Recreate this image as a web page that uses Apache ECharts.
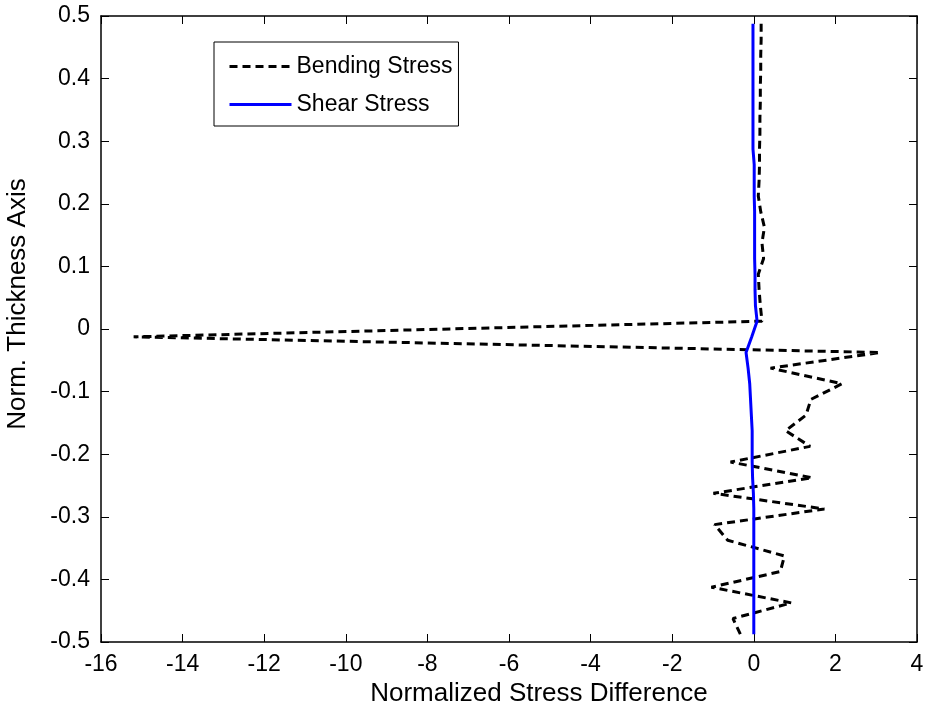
<!DOCTYPE html>
<html>
<head>
  <meta charset="utf-8">
  <title>Stress Difference</title>
  <script src="https://cdn.jsdelivr.net/npm/echarts@6/dist/echarts.min.js"></script>
  <style>
    html, body { margin: 0; padding: 0; background: #fff; }
    #main { width: 933px; height: 708px; }
  </style>
</head>
<body>
  <div id="main"></div>
  <script>
    // thickness positions (same for both curves)
    const thickness = [
      0.4875, 0.4625, 0.4375, 0.4125, 0.3875, 0.3625, 0.3375, 0.3125, 0.2875, 0.2625,
      0.2375, 0.2125, 0.1875, 0.1625, 0.1375, 0.1125, 0.0875, 0.0625, 0.0375, 0.0125,
      -0.0125, -0.0375, -0.0625, -0.0875, -0.1125, -0.1375, -0.1625, -0.1875, -0.2125, -0.2375,
      -0.2625, -0.2875, -0.3125, -0.3375, -0.3625, -0.3875, -0.4125, -0.4375, -0.4625, -0.4875
    ]
    const bendingStress = [
      0.18, 0.18, 0.17, 0.17, 0.16, 0.16, 0.15, 0.15, 0.14, 0.14,
      0.13, 0.11, 0.17, 0.26, 0.20, 0.24, 0.11, 0.13, 0.16, 0.20,
      -15.2, 3.1, 0.41, 2.16, 1.40, 1.28, 0.78, 1.38, -0.57, 1.43,
      -0.99, 1.73, -0.96, -0.64, 0.75, 0.65, -1.04, 0.92, -0.51, -0.33
    ]
    const shearStress = [
      -0.02, -0.02, -0.02, -0.02, -0.02, -0.02, -0.02, -0.02, -0.02, 0.01,
      0.01, 0.01, 0.02, 0.02, 0.02, 0.02, 0.03, 0.03, 0.04, 0.08,
      -0.05, -0.19, -0.14, -0.10, -0.08, -0.06, -0.04, -0.04, -0.04, -0.03,
      -0.01, 0, 0, 0, 0, 0, 0, 0, 0, 0
    ]
    const seriesNames = ['Bending Stress', 'Shear Stress']

    const font = 'Liberation Sans, Arial, sans-serif'
    const black = '#000'

    let chart = echarts.init(document.getElementById('main'))

    let pairs = (xs) => xs.map((x, i) => [x, thickness[i]])

    // box axes: ticks inside on all four sides, labels only bottom/left
    let boxAxis = (extra) => Object.assign({
      type: 'value',
      axisLine: { show: true, onZero: false, lineStyle: { color: black, width: 1.5 } },
      axisTick: { show: true, inside: true, length: 8, lineStyle: { color: black, width: 1 } },
      splitLine: { show: false },
      axisLabel: { show: false },
    }, extra)

    let option = {
      animation: false,
      textStyle: { fontFamily: font },
      grid: { left: 101, right: 16, top: 16, bottom: 66, outerBoundsMode: 'none' },
      legend: {
        orient: 'vertical',
        left: 214,
        top: 42,
        data: seriesNames,
        backgroundColor: '#fff',
        borderColor: black,
        borderWidth: 1,
        borderRadius: 0,
        padding: [13, 6, 10, 14],
        itemWidth: 62,
        itemHeight: 14,
        itemGap: 15,
        itemStyle: { opacity: 0 },
        lineStyle: { width: 3 },
        textStyle: { color: black, fontSize: 23, fontFamily: font },
      },
      xAxis: [
        boxAxis({
          min: -16, max: 4, interval: 2,
          name: 'Normalized Stress Difference',
          nameLocation: 'middle',
          nameGap: 36,
          nameTextStyle: { color: black, fontSize: 26, fontFamily: font, padding: [0, 0, 0, 60] },
          axisLabel: { show: true, color: black, fontSize: 23, margin: 11, fontFamily: font },
        }),
        boxAxis({ min: -16, max: 4, interval: 2, position: 'top' }),
      ],
      yAxis: [
        boxAxis({
          min: -0.5, max: 0.5, interval: 0.1,
          name: 'Norm. Thickness Axis',
          nameLocation: 'middle',
          nameGap: 70,
          nameTextStyle: { color: black, fontSize: 26, fontFamily: font, padding: [0, 0, 0, 50] },
          axisLabel: {
            show: true, color: black, fontSize: 23, margin: 11, fontFamily: font,
            formatter: (v) => String(Math.round(v * 10) / 10),
          },
        }),
        boxAxis({ min: -0.5, max: 0.5, interval: 0.1, position: 'right' }),
      ],
      series: [
        {
          name: seriesNames[0],
          type: 'line',
          symbol: 'none',
          color: black,
          lineStyle: { color: black, width: 3, type: [8, 5] },
          data: pairs(bendingStress),
          z: 3,
        },
        {
          name: seriesNames[1],
          type: 'line',
          symbol: 'none',
          color: '#0000ff',
          lineStyle: { color: '#0000ff', width: 3, type: 'solid' },
          data: pairs(shearStress),
          z: 4,
        },
      ],
    }
    chart.setOption(option)
  </script>
</body>
</html>
